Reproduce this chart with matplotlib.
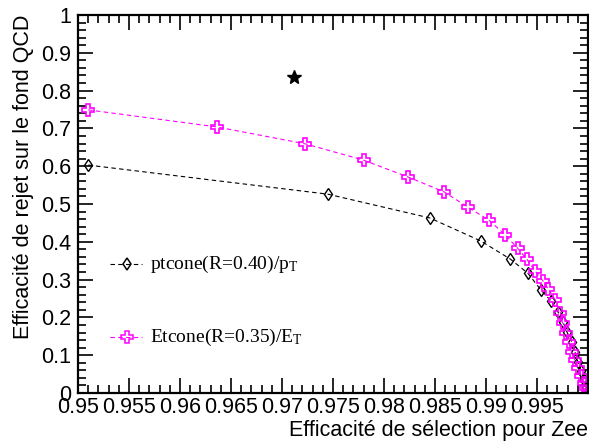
import matplotlib
matplotlib.use("Agg")
import matplotlib.pyplot as plt
from matplotlib.ticker import MultipleLocator, FixedLocator, FixedFormatter

# ptcone(R=0.40)/pT  (black diamonds)
pt_eff = [0.9510, 0.9745, 0.9845, 0.9895, 0.9924, 0.9941, 0.9954, 0.9964,
          0.99706, 0.99755, 0.99794, 0.99843, 0.99873, 0.99902, 0.99931,
          0.99961, 0.9998, 1.0]
pt_rej = [0.603, 0.526, 0.463, 0.402, 0.354, 0.317, 0.272, 0.243,
          0.214, 0.188, 0.161, 0.135, 0.108, 0.082, 0.058,
          0.034, 0.016, 0.0]

# Etcone(R=0.35)/ET  (magenta crosses)
et_eff = [0.9510, 0.9636, 0.9723, 0.9780, 0.9824, 0.9859, 0.9882, 0.9903,
          0.9919, 0.9931, 0.9940, 0.9948, 0.9956, 0.9961, 0.9968, 0.9973,
          0.9975, 0.9978, 0.9981, 0.9984, 0.9987, 0.9990, 0.9993, 0.9996,
          0.9998, 1.0]
et_rej = [0.749, 0.704, 0.659, 0.616, 0.571, 0.532, 0.492, 0.457,
          0.418, 0.383, 0.354, 0.323, 0.296, 0.275, 0.246, 0.212,
          0.185, 0.159, 0.135, 0.108, 0.087, 0.066, 0.045, 0.026,
          0.013, 0.0]

# reference point (star)
star_eff = [0.9712]
star_rej = [0.836]

xticks = [0.95, 0.955, 0.96, 0.965, 0.97, 0.975, 0.98, 0.985, 0.99, 0.995]
xticklabels = ["0.95", "0.955", "0.96", "0.965", "0.97", "0.975", "0.98", "0.985", "0.99", "0.995"]
yticks = [0, 0.1, 0.2, 0.3, 0.4, 0.5, 0.6, 0.7, 0.8, 0.9, 1.0]
yticklabels = ["0", "0.1", "0.2", "0.3", "0.4", "0.5", "0.6", "0.7", "0.8", "0.9", "1"]

plt.rcParams['font.family'] = ['Liberation Sans', 'DejaVu Sans']
plt.rcParams['mathtext.fontset'] = 'custom'
plt.rcParams['mathtext.rm'] = 'Liberation Serif'
plt.rcParams['mathtext.it'] = 'Liberation Serif:italic'

fig = plt.figure(figsize=(5.89, 4.43), dpi=100)
ax = fig.add_axes([78 / 589, 50 / 443, 510 / 589, 378 / 443])

ax.plot(pt_eff, pt_rej, color='black', ls=(0, (4, 3)), lw=0.8,
        marker='d', ms=6, mfc='none', mec='black', mew=1.0)
ax.plot(et_eff, et_rej, color='#ff00ff', ls=(0, (4, 3)), lw=0.8,
        marker='P', ms=8.5, mfc='none', mec='#ff00ff', mew=1.2)
ax.plot(star_eff, star_rej, ls='none', marker='*', ms=10, color='black')

ax.set_xlim(0.95, 1.0)
ax.set_ylim(0, 1)

ax.xaxis.set_major_locator(FixedLocator(xticks))
ax.xaxis.set_major_formatter(FixedFormatter(xticklabels))
ax.xaxis.set_minor_locator(MultipleLocator(0.001))
ax.yaxis.set_major_locator(FixedLocator(yticks))
ax.yaxis.set_major_formatter(FixedFormatter(yticklabels))
ax.yaxis.set_minor_locator(MultipleLocator(0.02))

ax.tick_params(which='both', direction='in', top=True, right=True,
               labelsize=15.5, width=1.2)
ax.tick_params(which='major', length=11, pad=5)
ax.tick_params(axis='x', which='major', pad=3)
ax.tick_params(which='minor', length=6)
for s in ax.spines.values():
    s.set_linewidth(1.6)

ax.set_xlabel("Efficacité de sélection pour Zee", fontsize=15.5, loc='right')
ax.xaxis.set_label_coords(1.0, -0.1)
ax.xaxis.label.set_va('center')
ax.set_ylabel("Efficacité de rejet sur le fond QCD", fontsize=15.5, loc='top', labelpad=5)

# legend drawn by hand, ROOT style
leg_y = [0.34, 0.148]
leg_txt = [r"ptcone(R=0.40)/$\mathrm{p}_{\mathrm{T}}$", r"Etcone(R=0.35)/$\mathrm{E}_{\mathrm{T}}$"]
leg_col = ['black', '#ff00ff']
leg_mk = ['d', 'P']
leg_ms = [6, 8.5]
for yy, txt, c, mk, ms in zip(leg_y, leg_txt, leg_col, leg_mk, leg_ms):
    ax.plot([0.95314, 0.95627], [yy, yy], color=c, ls=(0, (4, 3)), lw=0.8)
    ax.plot([0.9548], [yy], marker=mk, ms=ms, mfc='none', mec=c, mew=1.1)
    ax.text(0.95706, yy, txt, fontsize=14, family='Liberation Serif',
            va='center', ha='left')

fig.savefig("out.png", dpi=100)
